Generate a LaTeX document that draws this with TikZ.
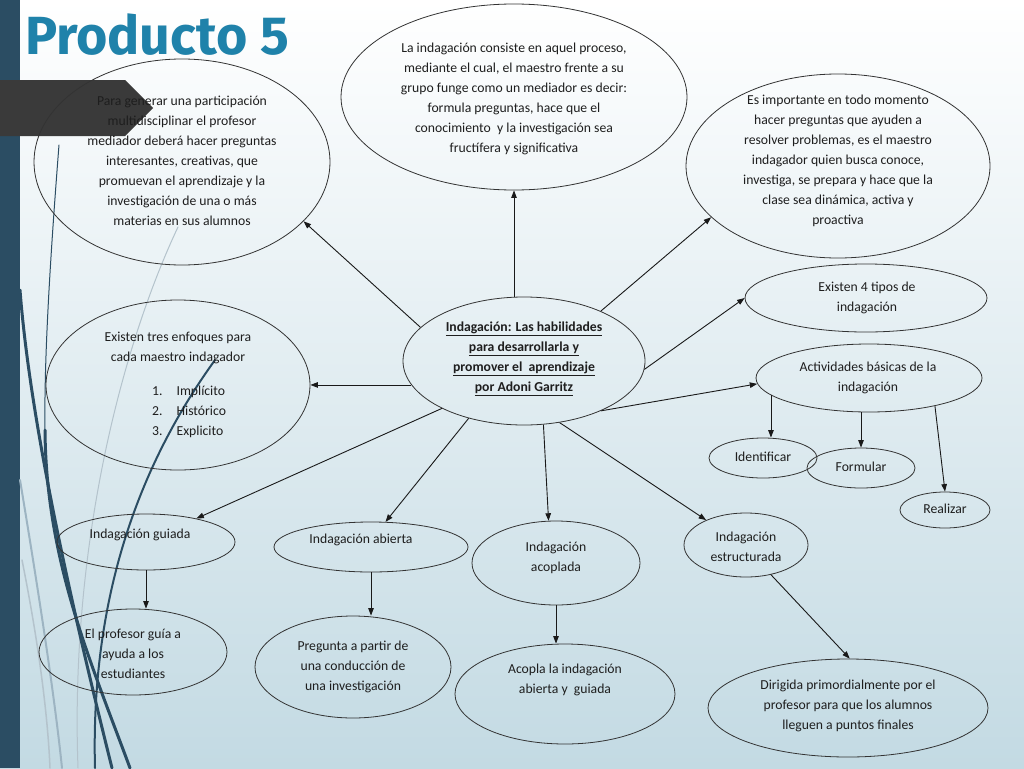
\documentclass[tikz,border=0pt]{standalone}
\usepackage{fontspec}
\setmainfont{Carlito}
\newfontfamily\titlefont{Fira Sans}
\usetikzlibrary{shapes.geometric,arrows.meta}
\definecolor{band}{HTML}{2B4D63}
\definecolor{titleblue}{HTML}{1F82AA}
\definecolor{bgbottom}{HTML}{C3DAE3}
\definecolor{chev}{HTML}{3A3A3A}
\definecolor{lightcurve}{HTML}{B4C3CC}
\definecolor{midcurve}{HTML}{9DB4C2}
\definecolor{ink}{HTML}{1E1E1E}
\tikzset{
  ell/.style={ellipse, draw=black!80, line width=0.8pt, inner sep=0pt},
  txt/.style={align=center, inner sep=0pt, text=ink,
    font=\fontsize{13.7}{20}\selectfont},
  arr/.style={-{Triangle[length=7.5pt,width=5.5pt]}, line width=0.9pt, draw=black!90},
  deco/.style={line cap=round}
}
\begin{document}
\begin{tikzpicture}[x=1pt,y=-1pt]
\useasboundingbox (0,0) rectangle (1024,768);
% background
\shade[top color=white, bottom color=bgbottom] (0,0) rectangle (1024,768);
\fill[band] (0,0) rectangle (20,768);
% decorative curves
\draw[deco, lightcurve, line width=1pt] (178,227) .. controls (120,350) and (70,550) .. (78,768);
\draw[deco, midcurve, line width=2pt] (20,480) .. controls (40,600) and (55,700) .. (62,768);
\draw[deco, lightcurve, line width=1.5pt] (22,560) .. controls (40,650) and (48,720) .. (50,768);
\draw[deco, band, line width=3pt] (20,290) .. controls (30,420) and (70,600) .. (112,768);
\draw[deco, band, line width=1pt] (59,145) .. controls (50,260) and (44,360) .. (45,430);
\draw[deco, band, line width=3pt] (45,430) .. controls (46,560) and (90,660) .. (130,768);
\draw[deco, band, line width=2pt] (215,360) .. controls (150,450) and (90,580) .. (95,768);
% chevron
\fill[chev] (0,80) -- (125,80) -- (153,108) -- (125,136) -- (0,136) -- cycle;
% title
\node[anchor=base west, inner sep=0pt, text=titleblue,
  font=\titlefont\bfseries\fontsize{53.7}{60}\selectfont] (title) at (25,55) {Producto 5};

% ellipses
\node[ell, minimum width=296pt, minimum height=206pt] (e1) at (182,162) {};
\node[ell, minimum width=346pt, minimum height=186pt] (e2) at (514,97) {};
\node[ell, minimum width=304pt, minimum height=184pt] (e3) at (838,166) {};
\node[ell, minimum width=264pt, minimum height=170pt] (e4) at (178,385) {};
\node[ell, minimum width=242pt, minimum height=128pt] (c) at (524,361) {};
\node[ell, minimum width=242pt, minimum height=68pt] (e6) at (866,298) {};
\node[ell, minimum width=226pt, minimum height=68pt] (e7) at (869,378) {};
\node[ell, minimum width=108pt, minimum height=40pt] (e8) at (763,458) {};
\node[ell, minimum width=108pt, minimum height=40pt] (e9) at (861,468) {};
\node[ell, minimum width=90pt, minimum height=36pt] (e10) at (945,510) {};
\node[ell, minimum width=178pt, minimum height=56pt] (e11) at (146,542) {};
\node[ell, minimum width=188pt, minimum height=86pt] (e12) at (133,652) {};
\node[ell, minimum width=194pt, minimum height=50pt] (e13) at (371,547) {};
\node[ell, minimum width=196pt, minimum height=102pt] (e14) at (353,667) {};
\node[ell, minimum width=168pt, minimum height=84pt] (e15) at (556,563) {};
\node[ell, minimum width=220pt, minimum height=100pt] (e16) at (565,694) {};
\node[ell, minimum width=124pt, minimum height=64pt] (e17) at (746,545) {};
\node[ell, minimum width=280pt, minimum height=98pt] (e18) at (848,708) {};

% texts
\node[txt] (e1t) at (182,161) {Para generar una participación\\multidisciplinar el profesor\\mediador deberá hacer preguntas\\interesantes, creativas, que\\promuevan el aprendizaje y la\\investigación de una o más\\materias en sus alumnos};
\node[txt] (e2t) at (514,98.5) {La indagación consiste en aquel proceso,\\mediante el cual, el maestro frente a su\\grupo funge como un mediador es decir:\\formula preguntas, hace que el\\conocimiento\ \ y la investigación sea\\fructífera y significativa};
\node[txt] (e3t) at (838,160.5) {Es importante en todo momento\\hacer preguntas que ayuden a\\resolver problemas, es el maestro\\indagador quien busca conoce,\\investiga, se prepara y hace que la\\clase sea dinámica, activa y\\proactiva};
\node[txt] (e4t) at (178,348) {Existen tres enfoques para\\cada maestro indagador};
\node[txt, anchor=west] (e4l) at (152,411) {\begin{tabular}{@{}r@{\hspace{14pt}}l@{}}1. & Implícito\\2. & Histórico\\3. & Explicito\end{tabular}};
\node[txt, font=\fontsize{13.7}{20}\selectfont\bfseries] (ct) at (524,359) {\underline{Indagación: Las habilidades}\\\underline{para desarrollarla y}\\\underline{promover el\ \ aprendizaje}\\\underline{por Adoni Garritz}};
\node[txt] (e6t) at (867,297.5) {Existen 4 tipos de\\indagación};
\node[txt] (e7t) at (868,378) {Actividades básicas de la\\indagación};
\node[txt] (e8t) at (763,457) {Identificar};
\node[txt] (e9t) at (861,467) {Formular};
\node[txt] (e10t) at (945,509) {Realizar};
\node[txt] (e11t) at (140,535) {Indagación guiada};
\node[txt] (e12t) at (133,654) {El profesor guía a\\ayuda a los\\estudiantes};
\node[txt] (e13t) at (361,540) {Indagación abierta};
\node[txt] (e14t) at (353,667) {Pregunta a partir de\\una conducción de\\una investigación};
\node[txt] (e15t) at (556,558) {Indagación\\acoplada};
\node[txt] (e16t) at (565,680) {Acopla la indagación\\abierta y\ \ guiada};
\node[txt] (e17t) at (746,547) {Indagación\\estructurada};
\node[txt] (e18t) at (848,706) {Dirigida primordialmente por el\\profesor para que los alumnos\\lleguen a puntos finales};

% connectors
\draw[arr] (c.162) -- (e1.-26);
\draw[arr] (c.north -| e2.south) -- (e2.south);
\draw[arr] (c.33) -- (e3.202);
\draw[arr] (c.192) -- (c.192 -| e4.east);
\draw[arr] (c.-4) -- (e6.west);
\draw[arr] (c.-33) -- (e7.183);
\draw[arr] (c.210) -- (e11.25);
\draw[arr] (c.226) -- (e13.60);
\draw[arr] (c.-73) -- (e15.100);
\draw[arr] (c.-60) -- (e17.148);
\draw[arr] (e7.190) -- (e7.190 |- e8.north);
\draw[arr] (e9.north |- e7.south) -- (e9.north);
\draw[arr] (e7.-23) -- (e10.north);
\draw[arr] (e11.south) -- (e11.south |- e12.north);
\draw[arr] (e13.south) -- (e13.south |- e14.north);
\draw[arr] (e15.south) -- (e15.south |- e16.north);
\draw[arr] (e17.-50) -- (e18.88);
\end{tikzpicture}
\end{document}
